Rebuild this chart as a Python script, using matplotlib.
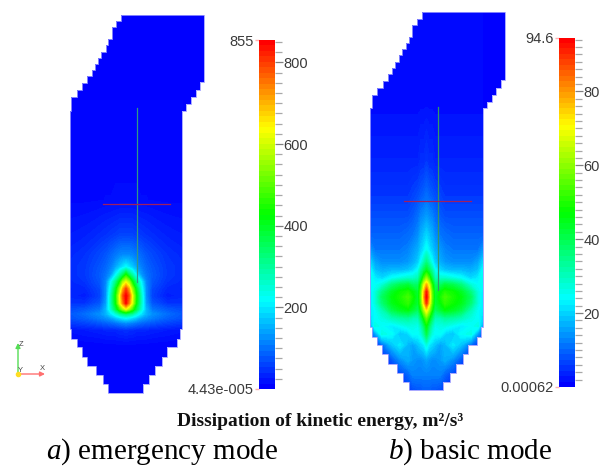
import numpy as np
import matplotlib
matplotlib.use("Agg")
import matplotlib.pyplot as plt
from matplotlib.cm import ScalarMappable
from matplotlib.colors import LinearSegmentedColormap, Normalize
from matplotlib.patches import Polygon
from matplotlib.ticker import FixedLocator

W, H = 611, 466

# furnace stair outline, panel a, traced on a 3x enlargement
stair_x = [363, 612, 600, 587, 574, 558, 546, 541, 530, 502, 487, 465, 447, 428, 325, 308, 288, 262, 245, 230,
           214, 209, 214, 230, 246, 262, 275, 284, 295, 304, 317, 324, 335, 349, 363]
stair_y = [44, 247, 270, 292, 312, 332, 988, 1017, 1042, 1070, 1098, 1125, 1152, 1178, 1152, 1125, 1098, 1070,
           1042, 1017, 988, 332, 292, 270, 249, 229, 210, 192, 173, 155, 135, 117, 81, 63, 44]
offset_b = (300.8, -2.5)

# panel a field, left half of the furnace, mirrored around the centre column
a_cols = [69, 85, 100, 106, 111, 116, 120, 123, 126]
a_rows = [14, 100, 200, 235, 255, 267, 275, 282, 289, 296, 303, 309, 314, 318, 323, 330, 345, 393]
a_vals = [
    [0, 0, 0, 0, 0, 0, 0, 0, 0],
    [0, 0, 0, 0, 0, 0, 0, 0, 0],
    [5, 5, 6, 7, 7, 8, 8, 8, 8],
    [20, 25, 35, 40, 45, 50, 55, 55, 55],
    [30, 40, 60, 70, 85, 100, 110, 115, 115],
    [35, 45, 70, 85, 105, 140, 170, 190, 210],
    [35, 45, 75, 95, 130, 210, 290, 350, 430],
    [30, 40, 70, 110, 210, 320, 430, 560, 620],
    [25, 30, 60, 120, 240, 400, 560, 700, 790],
    [30, 22, 55, 120, 270, 440, 640, 780, 855],
    [40, 40, 70, 130, 270, 430, 620, 740, 840],
    [60, 70, 95, 150, 250, 370, 480, 560, 620],
    [70, 90, 120, 150, 190, 240, 290, 310, 330],
    [65, 80, 105, 120, 135, 165, 185, 200, 210],
    [45, 55, 70, 78, 85, 95, 105, 110, 115],
    [15, 20, 25, 28, 30, 30, 35, 35, 40],
    [0, 2, 3, 4, 4, 5, 5, 5, 5],
    [0, 0, 0, 0, 0, 0, 0, 0, 0],
]

# panel b field
b_cols = [370, 375, 382, 392, 400, 408, 413, 418, 421, 424, 426.5]
b_rows = [12, 100, 160, 195, 215, 235, 250, 262, 270, 278, 285, 292, 297, 303, 310, 318, 326, 334, 345, 360,
          375, 390]
b_vals = [
    [1, 1, 1, 1, 1, 1, 1, 1, 1, 1, 1],
    [1, 1, 1, 1, 1, 1, 1, 1, 1, 1, 1],
    [3, 3, 3, 3, 3, 3, 3, 3, 4, 4, 5],
    [5, 5, 5, 5, 5, 5, 6, 7, 8, 9, 10],
    [7, 7, 7, 7, 7, 7, 8, 10, 12, 13, 14],
    [9, 9, 9, 9, 9, 10, 11, 13, 16, 18, 20],
    [14, 11, 11, 11, 11, 12, 14, 16, 19, 22, 25],
    [20, 15, 13, 13, 13, 14, 16, 19, 24, 30, 35],
    [24, 18, 16, 17, 17, 18, 20, 24, 32, 39, 44],
    [25, 22, 20, 24, 26, 28, 28, 30, 40, 52, 60],
    [24, 24, 27, 36, 40, 42, 38, 38, 50, 68, 78],
    [22, 26, 35, 44, 48, 50, 46, 42, 55, 76, 92],
    [22, 26, 38, 46, 49, 53, 48, 42, 56, 78, 94.6],
    [22, 26, 36, 45, 48, 51, 46, 42, 54, 74, 90],
    [22, 24, 30, 40, 44, 46, 42, 38, 48, 62, 72],
    [20, 24, 26, 30, 32, 33, 30, 30, 38, 48, 56],
    [14, 26, 24, 22, 24, 26, 26, 25, 30, 38, 46],
    [8, 14, 26, 24, 18, 20, 24, 24, 26, 32, 40],
    [3, 5, 10, 18, 22, 17, 15, 18, 20, 22, 26],
    [1, 2, 3, 8, 13, 16, 14, 13, 13, 14, 15],
    [1, 1, 1, 3, 6, 9, 12, 12, 12, 12, 12],
    [1, 1, 1, 1, 2, 5, 7, 8, 8, 9, 9],
]

a_max, b_max = 855, 94.6
a_ticks = [200, 400, 600, 800]
b_ticks = [20, 40, 60, 80]
a_ends = ["4.43e-005", "855"]
b_ends = ["0.00062", "94.6"]

plt.rcParams["font.family"] = "Liberation Sans"
plt.rcParams["mathtext.fontset"] = "custom"
plt.rcParams["mathtext.it"] = "Liberation Serif:italic"

rainbow = LinearSegmentedColormap.from_list(
    "rainbow_pv", [(0, "#0000ff"), (0.25, "#00ffff"), (0.5, "#00ff00"), (0.75, "#ffff00"), (1, "#ff0000")])


def outline_points(dx, dy):
    pts = [(stair_x[0] / 3 + dx, stair_y[0] / 3 + dy)]
    for i in range(1, len(stair_x)):
        pts.append((stair_x[i] / 3 + dx, stair_y[i - 1] / 3 + dy))
        pts.append((stair_x[i] / 3 + dx, stair_y[i] / 3 + dy))
    return np.array(pts)


def mirror(cols, vals, centre):
    cols = np.array(cols, dtype=float)
    vals = np.array(vals, dtype=float)
    xs = np.concatenate([cols, 2 * centre - cols[-2::-1]])
    return xs, np.hstack([vals, vals[:, -2::-1]])


def draw_field(ax, cols, rows, vals, vmax, dx, dy):
    xs, zz = mirror(cols, vals, cols[-1])
    pts = outline_points(dx, dy)
    ax.add_patch(Polygon(pts, facecolor="#0000ff", edgecolor="none", zorder=1))
    cs = ax.contourf(xs, rows, zz, levels=np.linspace(0, vmax, 129), cmap=rainbow, vmin=0, vmax=vmax,
                     extend="both", antialiased=False, zorder=2)
    edge = Polygon(pts, facecolor="none", edgecolor="#9a9aff", linewidth=0.6, zorder=3)
    ax.add_patch(edge)
    cs.set_clip_path(edge)


def draw_bar(x0, x1, y0, y1, vmax, ticks, minor, ends):
    cax = fig.add_axes([x0 / W, 1 - y1 / H, (x1 - x0) / W, (y1 - y0) / H])
    sm = ScalarMappable(norm=Normalize(0, vmax), cmap=rainbow.resampled(64))
    cb = fig.colorbar(sm, cax=cax, ticks=ticks)
    cb.outline.set_visible(False)
    cax.yaxis.set_minor_locator(FixedLocator(np.arange(minor, vmax, minor)))
    cax.tick_params(axis="y", which="major", length=5.8, width=0.9, color="#808080", labelcolor="#3a3a3a",
                    labelsize=10.5, pad=0.5)
    cax.tick_params(axis="y", which="minor", length=5, width=0.9, color="#a8a8a8")
    left = cax.secondary_yaxis("left")
    left.set_yticks([0, vmax], labels=ends)
    left.tick_params(length=3, width=1, color="#ffb0b0", labelcolor="#3a3a3a", labelsize=10.5, pad=1)
    left.spines["left"].set_visible(False)
    left.get_yticklines()[0].set_color("#b0b0ff")


fig = plt.figure(figsize=(W / 100, H / 100), dpi=100)
ax = fig.add_axes([0, 0, 1, 1])
ax.set_xlim(0, W)
ax.set_ylim(H, 0)
ax.axis("off")

draw_field(ax, a_cols, a_rows, a_vals, a_max, 0, 0)
draw_field(ax, b_cols, b_rows, b_vals, b_max, *offset_b)

# probe lines inside the furnace
ax.plot([137, 137], [108, 282], color="#2f9a86", lw=0.9, zorder=4)
ax.plot([103, 170], [203.7, 203.7], color="#a01f5f", lw=0.9, zorder=4)
ax.plot([437.7, 437.7], [106.7, 290], color="#2f9a66", lw=0.9, zorder=4)
ax.plot([404, 471], [201.3, 201.3], color="#a01f5f", lw=0.9, zorder=4)

draw_bar(259, 275, 40, 389, a_max, a_ticks, 25, a_ends)
draw_bar(559, 575, 37.5, 387, b_max, b_ticks, 2, b_ends)

# orientation triad
ax.annotate("", xy=(18, 343), xytext=(18, 374),
            arrowprops=dict(arrowstyle="-|>", color="#55dd55", lw=1, mutation_scale=7, shrinkA=0, shrinkB=0))
ax.annotate("", xy=(45, 374), xytext=(18, 374),
            arrowprops=dict(arrowstyle="-|>", color="#ff7070", lw=1, mutation_scale=7, shrinkA=0, shrinkB=0))
ax.plot([18], [374], "o", color="#ffdd22", ms=3, zorder=5)
ax.text(21.5, 345, "Z", fontsize=5.5, color="#444444", ha="center", va="center")
ax.text(20.5, 370.5, "Y", fontsize=5.5, color="#444444", ha="center", va="center")
ax.text(42, 369, "X", fontsize=5.5, color="#444444", ha="center", va="center")

ax.text(320, 421, "Dissipation of kinetic energy, m²/s³", family="Liberation Serif", weight="bold",
        fontsize=14, ha="center", va="center", color="#111111")
ax.text(46, 452, r"$\mathit{a}$) emergency mode", family="Liberation Serif", fontsize=21, ha="left",
        va="center", color="black")
ax.text(388, 452, r"$\mathit{b}$) basic mode", family="Liberation Serif", fontsize=21, ha="left",
        va="center", color="black")

fig.savefig("out.png", dpi=100)
